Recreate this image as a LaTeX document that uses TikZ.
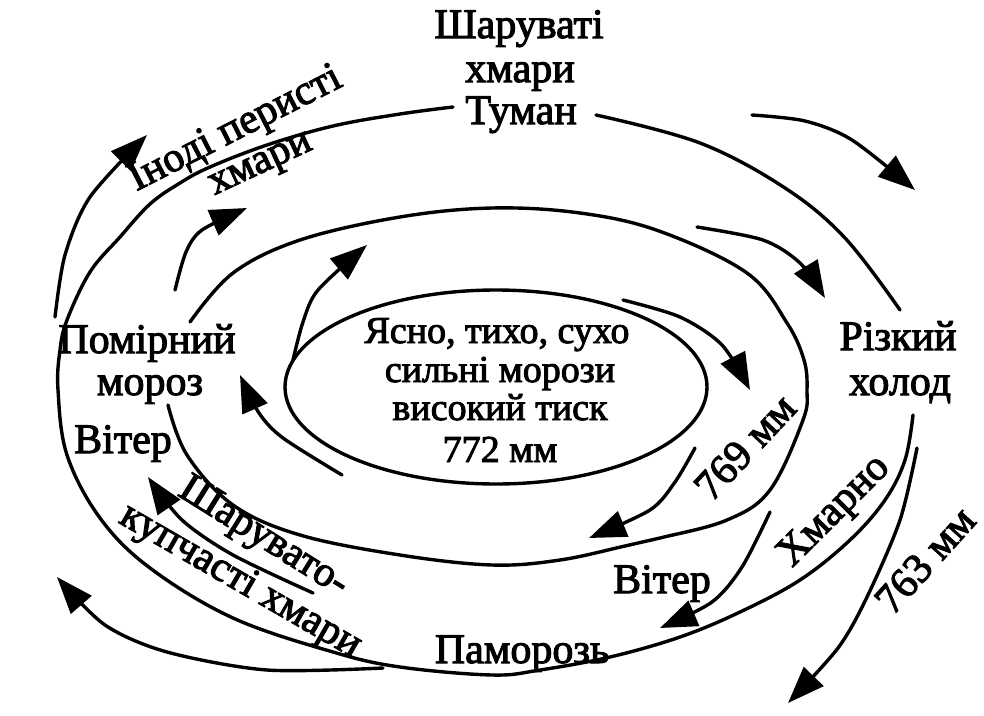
\documentclass[tikz,border=0pt]{standalone}
\usepackage{fontspec}
\setmainfont{Liberation Serif}
\newfontfamily\lblfont{Liberation Serif}[FakeBold=2.5]
\usetikzlibrary{arrows.meta}
\tikzset{
  iso/.style={line width=3.4pt, line cap=round},
  flow/.style={line width=3.4pt, line cap=round, -{Triangle[length=37pt,width=27pt]}},
  lbl/.style={inner sep=0pt, font=\lblfont\fontsize{42}{46}\selectfont},
  clbl/.style={inner sep=0pt, font=\lblfont\fontsize{38}{42}\selectfont},
}
\begin{document}
\begin{tikzpicture}[x=1pt,y=-1pt]
\useasboundingbox (0,0) rectangle (984,715);
% isobars
\draw[iso] (496,387) ellipse [x radius=211pt, y radius=97pt];
\draw[iso] plot[smooth, tension=0.6] coordinates {(190,322) (233,273) (300,240) (400,217) (492,208) (580,213) (659,231) (747,273) (787,323) (804,360) (807,390) (803,420) (770,490) (727,520) (660,538) (625,546) (560,560) (492,565) (400,555) (300,535) (233,505) (187,455) (168,405)};
\draw[iso] plot[smooth, tension=0.6] coordinates {(596,115) (700,143) (785,188) (845,238) (900,310)};
\draw[iso] plot[smooth, tension=0.6] coordinates {(913,415) (905,460) (885,500) (850,540) (800,580) (740,612) (680,637) (610,657) (540,670) (492,675) (400,667) (333,652) (233,618) (150,568) (100,518) (67,455) (58,390) (60,350) (67,320) (90,272) (120,237) (150,204) (180,183) (210,167) (267,145) (333,126) (400,114) (453,107)};
% flow arrows
\draw[flow] plot[smooth] coordinates {(55,317) (65,255) (90,197) (147,135)};
\draw[flow] plot[smooth] coordinates {(175,290) (186,252) (202,230) (247,208)};
\draw[flow] plot[smooth] coordinates {(293,360) (303,322) (318,290) (367,245)};
\draw[flow] plot[smooth] coordinates {(752,115) (805,121) (852,140) (915,190)};
\draw[flow] plot[smooth] coordinates {(697,227) (763,240) (800,263) (825,298)};
\draw[flow] plot[smooth] coordinates {(623,300) (680,317) (722,345) (750,390)};
\draw[flow] plot[smooth] coordinates {(695,448) (675,482) (650,510) (589,538)};
\draw[flow] plot[smooth] coordinates {(770,512) (742,567) (712,602) (660,628)};
\draw[flow] plot[smooth] coordinates {(917,448) (900,520) (867,597) (838,648) (788,703)};
\draw[flow] plot[smooth] coordinates {(383,668) (267,670) (167,652) (105,625) (57,577)};
\draw[flow] plot[smooth] coordinates {(313,593) (233,555) (182,520) (148,477)};
\draw[flow] plot[smooth] coordinates {(342,475) (283,438) (259,413) (240,375)};
% labels
\node[lbl, anchor=base] (sh1) at (519,38) {Шаруваті};
\node[lbl, anchor=base] (sh2) at (520,82) {хмари};
\node[lbl, anchor=base] (tum) at (521,124) {Туман};
\node[lbl, anchor=base] (pom1) at (147,353) {Помірний};
\node[lbl, anchor=base] (pom2) at (150,395) {мороз};
\node[lbl, anchor=base] (vit1) at (123,453) {Вітер};
\node[clbl, anchor=base] (c1) at (497,343) {Ясно, тихо, сухо};
\node[clbl, anchor=base] (c2) at (500,382) {сильні морози};
\node[clbl, anchor=base] (c3) at (500,420) {високий тиск};
\node[clbl, anchor=base] (c4) at (500,462) {772 мм};
\node[lbl, anchor=base] (riz1) at (898,350) {Різкий};
\node[lbl, anchor=base] (riz2) at (900,395) {холод};
\node[lbl, anchor=base] (vit2) at (662,593) {Вітер};
\node[lbl, anchor=base] (pam) at (522,663) {Паморозь};
\node[lbl, rotate=27] (ip) at (236,130) {Іноді перисті};
\node[lbl, rotate=25] (hm1) at (262,167) {хмари};
\node[lbl, rotate=47] (p769) at (745,447) {769 мм};
\node[lbl, rotate=45] (hmarno) at (835,512) {Хмарно};
\node[lbl, rotate=48] (p763) at (925,560) {763 мм};
\node[lbl, rotate=-32] (shk1) at (263,538) {Шарувато-};
\node[lbl, rotate=-30] (shk2) at (240,582) {купчасті хмари};
\end{tikzpicture}
\end{document}
